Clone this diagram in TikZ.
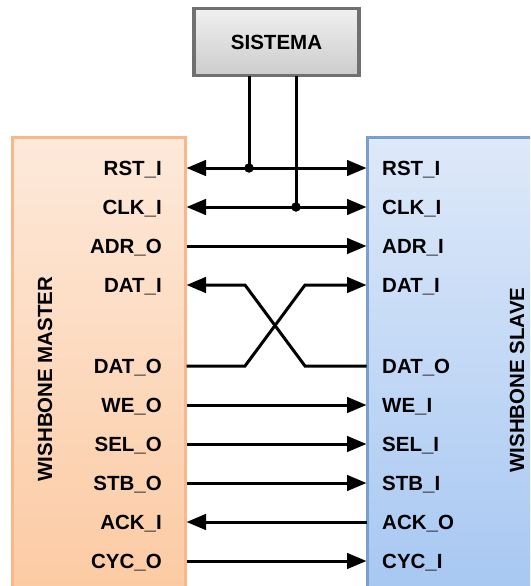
\documentclass[tikz,border=0pt]{standalone}
\usepackage{fontspec}
\setmainfont{Liberation Sans}
\usetikzlibrary{arrows.meta}
\definecolor{mTop}{RGB}{253,233,218}
\definecolor{mBot}{RGB}{252,202,162}
\definecolor{mEdge}{RGB}{249,184,138}
\definecolor{sTop}{RGB}{222,233,249}
\definecolor{sBot}{RGB}{166,199,242}
\definecolor{sEdge}{RGB}{122,160,204}
\definecolor{gTop}{RGB}{240,240,240}
\definecolor{gBot}{RGB}{204,204,204}
\definecolor{gEdge}{RGB}{112,112,112}
\begin{document}
\begin{tikzpicture}[x=1pt,y=-1pt,
  >={Triangle[length=19.5pt,width=15.5pt]},
  lbl/.style={font=\bfseries\fontsize{20.5}{24}\selectfont, inner sep=0pt, text=black},
  mlbl/.style={lbl, anchor=base east},
  slbl/.style={lbl, anchor=base west},
  wire/.style={line width=3pt, draw=black},
  dot/.style={circle, fill=black, inner sep=0pt, minimum size=9.5pt}]
\useasboundingbox (0,0) rectangle (530,586);
\clip (0,0) rectangle (530,586);
% boxes
\shade[top color=mTop, bottom color=mBot] (12.5,137.5) rectangle (185.5,600);
\draw[mEdge, line width=2.8pt] (12.5,600) -- (12.5,137.5) -- (185.5,137.5) -- (185.5,600);
\shade[top color=sTop, bottom color=sBot] (367.5,137.5) rectangle (545,600);
\draw[sEdge, line width=2.8pt] (367.5,600) -- (367.5,137.5) -- (545,137.5);
\node[draw=gEdge, line width=3.5pt, top color=gTop, bottom color=gBot,
      minimum width=165pt, minimum height=67pt, inner sep=0pt,
      font=\bfseries\fontsize{20.5}{24}\selectfont] (sys) at (276.5,42) {SISTEMA};
% box titles
\node[lbl, rotate=90] (mtitle) at (45,379) {WISHBONE MASTER};
\node[lbl, rotate=90] (stitle) at (517,380) {WISHBONE SLAVE};
% rows
\foreach \n/\y/\ml/\sl in {1/168/RST\_I/RST\_I, 2/207/CLK\_I/CLK\_I, 3/246/ADR\_O/ADR\_I, 4/285/DAT\_I/DAT\_I,
  5/366/DAT\_O/DAT\_O, 6/405/WE\_O/WE\_I, 7/444/SEL\_O/SEL\_I, 8/483/STB\_O/STB\_I, 9/522/ACK\_I/ACK\_O, 10/561/CYC\_O/CYC\_I}{
  \node[mlbl] (ml\n) at (162,\y+7) {\ml};
  \node[slbl] (sl\n) at (382,\y+7) {\sl};
  \coordinate (m\n) at (186.5,\y);
  \coordinate (s\n) at (366.5,\y);
}
% system lines
\node[dot] (j1) at (249,168) {};
\node[dot] (j2) at (296,207) {};
\coordinate (sysA) at (249,76);
\coordinate (sysB) at (296,76);
\draw[wire] (sysA) -- (j1.center);
\draw[wire] (sysB) -- (j2.center);
\draw[wire,<->] (m1) -- (s1);
\draw[wire,<->] (m2) -- (s2);
\draw[wire,->] (m3) -- (s3);
% crossing
\coordinate (c1) at (245,285);
\coordinate (c2) at (305,285);
\coordinate (c3) at (245,366);
\coordinate (c4) at (305,366);
\draw[wire,->] (s5) -- (c4) -- (c1) -- (m4);
\draw[wire,->] (m5) -- (c3) -- (c2) -- (s4);
\draw[wire,->] (m6) -- (s6);
\draw[wire,->] (m7) -- (s7);
\draw[wire,->] (m8) -- (s8);
\draw[wire,<-] (m9) -- (s9);
\draw[wire,->] (m10) -- (s10);
\end{tikzpicture}
\end{document}
